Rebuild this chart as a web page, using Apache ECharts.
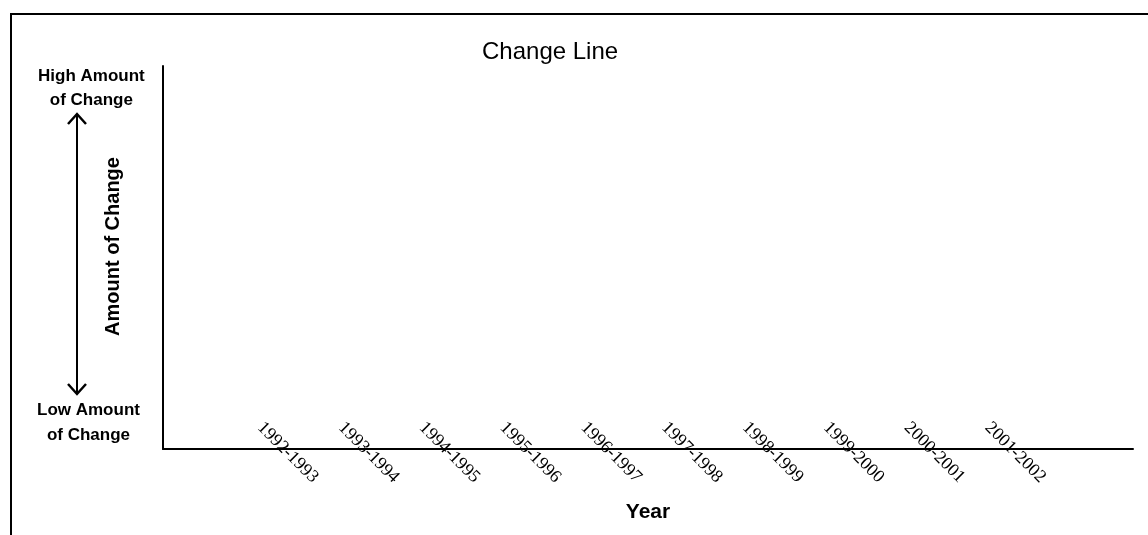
<!DOCTYPE html>
<html>
    <head>
        <meta charset="utf-8">
        <script src="https://cdn.jsdelivr.net/npm/echarts@6/dist/echarts.min.js"></script>
        <style>
            html, body {
                margin: 0;
                padding: 0;
                background: #fff;
            }
            #main {
                width: 1148px;
                height: 535px;
            }
        </style>
    </head>
    <body>
        <div id="main"></div>

        <script>

            // school years on the x axis (blank slot at each end, as on the sheet)
            var years = ['1992-1993', '1993-1994', '1994-1995', '1995-1996', '1996-1997',
                '1997-1998', '1998-1999', '1999-2000', '2000-2001', '2001-2002'];

            // the sheet is blank: nothing plotted yet
            var changeValues = [null, null, null, null, null, null, null, null, null, null];

            var axisData = [''].concat(years, ['']);
            var seriesData = [null].concat(changeValues, [null]);

            var chart = echarts.init(document.getElementById('main'));

            var boldFont = '"Liberation Sans", Arial, sans-serif';

            chart.setOption({
                animation: false,
                title: {
                    text: 'Change Line',
                    left: 482,
                    top: 40,
                    padding: 0,
                    textStyle: {
                        fontFamily: '"Liberation Sans", Arial, sans-serif',
                        fontSize: 24,
                        fontWeight: 'normal',
                        color: '#000'
                    }
                },
                grid: {
                    left: 163,
                    right: 15,
                    top: 66,
                    bottom: 86
                },
                xAxis: {
                    type: 'category',
                    data: axisData,
                    boundaryGap: true,
                    name: 'Year',
                    nameLocation: 'middle',
                    nameGap: 53,
                    nameTextStyle: {
                        fontFamily: boldFont,
                        fontSize: 21,
                        fontWeight: 'bold',
                        color: '#000'
                    },
                    axisLine: {
                        lineStyle: {color: '#000', width: 2}
                    },
                    axisTick: {show: false},
                    axisLabel: {
                        interval: 0,
                        rotate: -45,
                        margin: 0,
                        align: 'center',
                        verticalAlign: 'middle',
                        padding: [0, 0, 10, 10],
                        fontFamily: '"Liberation Serif", "Times New Roman", serif',
                        fontSize: 18,
                        color: '#000'
                    },
                    splitLine: {show: false}
                },
                yAxis: {
                    type: 'value',
                    min: 0,
                    max: 10,
                    name: 'Amount of Change',
                    nameLocation: 'middle',
                    nameRotate: 90,
                    nameGap: 40,
                    nameTextStyle: {
                        fontFamily: boldFont,
                        fontSize: 20,
                        fontWeight: 'bold',
                        color: '#000',
                        padding: [0, 0, 0, 22]
                    },
                    axisLine: {
                        show: true,
                        lineStyle: {color: '#000', width: 2}
                    },
                    axisTick: {show: false},
                    axisLabel: {show: false},
                    splitLine: {show: false}
                },
                graphic: [
                    // sheet frame (top and left edges of the scanned box)
                    {
                        type: 'polyline',
                        shape: {points: [[11, 540], [11, 14], [1150, 14]]},
                        style: {stroke: '#000', lineWidth: 2, fill: null}
                    },
                    // double-headed arrow beside the y axis
                    {
                        type: 'line',
                        shape: {x1: 77, y1: 114, x2: 77, y2: 394},
                        style: {stroke: '#000', lineWidth: 2}
                    },
                    {
                        type: 'polyline',
                        shape: {points: [[68, 124], [77, 114], [86, 124]]},
                        style: {stroke: '#000', lineWidth: 2.5, fill: null}
                    },
                    {
                        type: 'polyline',
                        shape: {points: [[68, 384], [77, 394], [86, 384]]},
                        style: {stroke: '#000', lineWidth: 2.5, fill: null}
                    },
                    {
                        type: 'text',
                        left: 38,
                        top: 64,
                        style: {
                            text: 'High Amount\nof Change',
                            textAlign: 'center',
                            font: 'bold 17px ' + boldFont,
                            lineHeight: 24,
                            fill: '#000'
                        }
                    },
                    {
                        type: 'text',
                        left: 37,
                        top: 398,
                        style: {
                            text: 'Low Amount\nof Change',
                            textAlign: 'center',
                            font: 'bold 17px ' + boldFont,
                            lineHeight: 25,
                            fill: '#000'
                        }
                    }
                ],
                series: [{
                    name: 'Change Line',
                    type: 'line',
                    data: seriesData,
                    showSymbol: false,
                    lineStyle: {color: '#000'}
                }]
            });

        </script>
    </body>
</html>
